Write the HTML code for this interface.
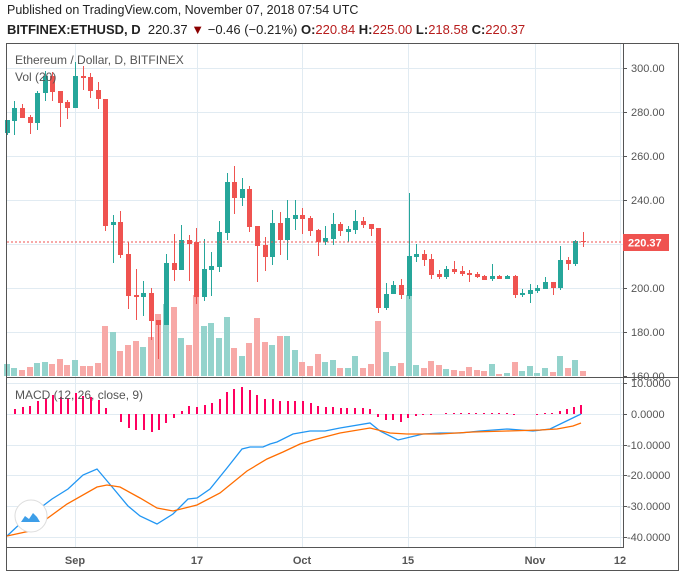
<!DOCTYPE html>
<html><head><meta charset="utf-8"><style>
body{margin:0;background:#fff;width:685px;height:578px;overflow:hidden;font-family:"Liberation Sans",sans-serif}
.t{position:absolute;white-space:nowrap}
</style></head><body>
<div class="t" style="left:7px;top:3px;font-size:12.5px;color:#222">Published on TradingView.com, November 07, 2018 07:54 UTC</div>
<div class="t" style="left:7px;top:22px;font-size:13px;color:#222"><b>BITFINEX:ETHUSD, D</b>&nbsp; 220.37 <span style="color:#8b0000">▼</span> −0.46 (−0.21%) <b>O:</b><span style="color:#b71c1c">220.84</span> <b>H:</b><span style="color:#b71c1c">225.00</span> <b>L:</b><span style="color:#b71c1c">218.58</span> <b>C:</b><span style="color:#b71c1c">220.37</span></div>
<svg id="s" width="685" height="578" style="position:absolute;left:0;top:0" xmlns="http://www.w3.org/2000/svg" font-family="Liberation Sans, sans-serif">
<g id="grid" stroke="#e1ebf2" stroke-width="1"></g>
<g id="vol"></g><g id="hist"></g><g id="cand"></g>
<polyline id="ml" fill="none" stroke="#2196f3" stroke-width="1.3"/>
<polyline id="sl" fill="none" stroke="#ff6d00" stroke-width="1.3"/>
<line x1="7" y1="242" x2="623" y2="242" stroke="#ef5350" stroke-dasharray="2,2"/>
<rect x="6.5" y="43.5" width="672" height="527" fill="none" stroke="#555"/>
<line x1="623.5" y1="43" x2="623.5" y2="548" stroke="#555"/>
<line x1="6" y1="377.5" x2="679" y2="377.5" stroke="#555"/>
<line x1="6" y1="547.5" x2="624" y2="547.5" stroke="#555"/>
<g id="ax" font-size="11" fill="#555"></g>
<rect x="623" y="234" width="46" height="17" fill="#ef5350"/>
<text x="628" y="246.5" font-size="11" fill="#fff" font-weight="bold">220.37</text>
<text x="15" y="64" font-size="12" fill="#555">Ethereum / Dollar, D, BITFINEX</text>
<text x="15" y="81" font-size="12" fill="#555">Vol (20)</text>
<text x="15" y="399" font-size="12" fill="#555">MACD (12, 26, close, 9)</text>
<g font-size="11" fill="#555" font-weight="bold" text-anchor="middle">
<text x="75" y="564">Sep</text><text x="197" y="564">17</text><text x="302" y="564">Oct</text><text x="408" y="564">15</text><text x="535" y="564">Nov</text><text x="620" y="564">12</text></g>
<circle cx="31" cy="516" r="16" fill="#fff" stroke="#ddd"/>
<path d="M21 522 l4-6 4 3 4-6 4 4 3 5z" fill="#3d9ee8"/>
</svg>
<script>
var N='http://www.w3.org/2000/svg',$=id=>document.getElementById(id);
function el(p,t,a){var e=document.createElementNS(N,t);for(var k in a)e.setAttribute(k,a[k]);p.appendChild(e);return e}
var g=$('grid');
[68,112,156,200,244,288,332].forEach(y=>el(g,'line',{x1:7,x2:623,y1:y+.5,y2:y+.5}));
[383,414,445,475,506,537].forEach(y=>el(g,'line',{x1:7,x2:623,y1:y+.5,y2:y+.5}));
[75,197,302,408,535,620].forEach(x=>el(g,'line',{x1:x+.5,x2:x+.5,y1:44,y2:547}));
var ax=$('ax');
[[68,'300.00'],[112,'280.00'],[156,'260.00'],[200,'240.00'],[288,'200.00'],[332,'180.00'],[376,'160.00'],
 [383,'10.0000'],[414,'0.0000'],[445,'-10.0000'],[475,'-20.0000'],[506,'-30.0000'],[537,'-40.0000']].forEach(a=>{
 el(ax,'line',{x1:623,x2:627,y1:a[0]+.5,y2:a[0]+.5,stroke:'#555'});var t=el(ax,'text',{x:a[1][0]=='-'?627:631,y:a[0]+4});t.textContent=a[1];});
var C=[[133,120,120,135],[121,108,101,135],[108,118,104,118],[117,123,115,134],[123,93,91,130],[93,76,71,101],[76,92,72,101],[91,103,91,127],[102,108,100,119],[108,76,62,108],
[76,78,66,90],[77,91,73,98],[90,99,82,109],[99,226,99,231],[225,222,215,263],[222,255,211,258],[254,296,242,309],[295,297,269,320],[297,293,281,316],[293,321,288,340],
[320,325,320,359],[325,263,254,325],[263,270,234,281],[270,240,225,270],[240,244,235,281],[242,297,228,304],[297,269,239,301],[270,266,252,296],[267,232,221,272],[233,182,173,240],
[182,198,166,214],[198,189,178,206],[189,227,186,232],[226,246,226,282],[245,257,237,271],[257,223,210,265],[223,240,212,255],[240,218,200,260],[219,215,200,230],[215,219,208,234],
[218,231,216,236],[230,242,229,256],[242,238,226,245],[239,224,213,245],[224,231,222,236],[232,229,226,242],[230,221,210,234],[221,225,217,228],[224,229,224,236],[228,308,228,313],
[308,294,283,310],[294,285,281,294],[285,295,279,299],[296,256,193,299],[257,254,244,262],[254,260,250,266],[259,275,254,279],[274,277,270,279],[277,269,266,279],[269,272,261,274],
[271,274,266,276],[273,275,270,282],[274,277,272,278],[276,280,275,280],[279,276,264,281],[276,279,275,279],[279,276,275,279],[276,295,275,298],[295,293,289,297],[294,290,284,303],
[291,288,285,293],[289,282,277,289],[282,288,282,295],[288,260,246,290],[260,264,257,270],[264,241,240,266],[241,242,232,247]];
var V=[364,368,370,367,363,362,364,359,365,360,366,366,363,326,332,351,345,341,347,337,314,304,307,338,345,295,326,323,338,317,348,356,343,318,342,345,336,336,350,362,366,354,362,360,368,368,356,368,364,321,352,366,363,295,365,368,361,365,369,370,371,367,370,371,364,374,373,362,371,366,373,368,372,356,368,360,371];
var cg=$('cand'),vg=$('vol');
C.forEach((c,i)=>{var x=Math.round(75+7.58*(i-9));var up=c[1]<c[0];var col=up?'#26a69a':'#ef5350';
 el(vg,'rect',{x:x-3,y:V[i],width:6,height:376-V[i],fill:up?'#94d3cc':'#f7a9a7'});
 el(cg,'line',{x1:x+.5,x2:x+.5,y1:c[2],y2:c[3],stroke:col});
 var t=Math.min(c[0],c[1]),b=Math.max(c[0],c[1]);el(cg,'rect',{x:x-2,y:t,width:5,height:Math.max(1,b-t),fill:col});});
var H=[[15,409],[23,407],[30,406],[38,401],[46,399],[53,395],[61,397],[68,398],[76,393],[83,396],[91,397],[99,400],[106,408],[121,422],[129,428],[136,430],[144,430],[152,432],[159,430],[166,423],[174,418],[182,411],[189,406],[197,407],[205,405],[212,403],[220,399],[227,392],[234,389],[242,387],[250,390],[257,395],[265,399],[273,399],[280,401],[288,401],[295,401],[303,401],[311,403],[318,406],[326,407],[333,407],[341,408],[347,408],[355,408],[363,408],[370,409],[378,417],[386,420],[393,420],[401,422],[408,418],[416,416],[423,415],[431,415],[446,413],[454,413],[461,413],[469,413],[476,413],[484,413],[492,413],[499,413],[507,413],[514,414],[537,414],[545,413],[552,413],[560,411],[567,409],[574,407],[581,405]];
var hg=$('hist');H.forEach(h=>{var y1=Math.min(h[1],414),y2=Math.max(h[1],414);el(hg,'rect',{x:h[0]-1,y:y1,width:2,height:Math.max(1,y2-y1),fill:'#ff0060'})});
$('ml').setAttribute('points','7,536 23,521 52,499 68,489 83,475 97,469 113,488 128,506 140,516 157,524 173,514 188,499 197,498 210,489 227,468 242,449 250,447 263,447 270,444 277,442 293,434 310,431 325,431 340,428 370,423 380,431 398,440 423,434 440,433 460,433 480,431 507,429 533,431 550,429 581,414');
$('sl').setAttribute('points','7,536 30,531 67,504 97,487 107,485 120,487 140,498 157,508 173,511 197,505 220,493 247,471 267,459 283,452 300,444 313,440 340,433 370,428 390,433 407,434 440,434 473,432 507,431 540,430 557,429 573,426 581,423');
</script>
</body></html>
